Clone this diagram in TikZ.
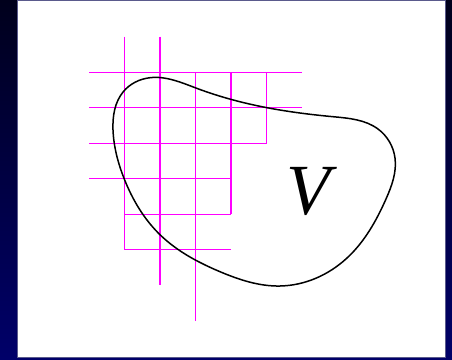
\documentclass[tikz,border=0pt]{standalone}
\usepackage{fontspec}
\setmainfont{Liberation Serif}
\usetikzlibrary{hobby}
\begin{document}
\begin{tikzpicture}[x=1pt,y=-1pt,
  gridline/.style={draw={rgb,255:red,255;green,0;blue,255}, line width=1.1pt},
  region/.style={draw=black, line width=1.5pt},
  lbl/.style={font=\fontsize{72}{72}\selectfont\itshape, inner sep=0pt}]
\useasboundingbox (0,0) rectangle (452,359);
\shade[top color={rgb,255:red,0;green,0;blue,28}, bottom color={rgb,255:red,0;green,0;blue,105}] (0,0) rectangle (452,359);
\fill[white, draw={rgb,255:red,90;green,90;blue,140}, line width=1pt] (17.5,0.5) rectangle (445.5,357);
% grid: origin at (124.5,72.2), step 35.5
\begin{scope}[shift={(124.5,72.2)}, x=35.5pt, y=-35.5pt]
  \draw[gridline] (0,-1) -- (0,5);
  \draw[gridline] (1,-1) -- (1,6);
  \draw[gridline] (2,0) -- (2,7);
  \draw[gridline] (3,0) -- (3,4);
  \draw[gridline] (4,0) -- (4,2);
  \draw[gridline] (-1,0) -- (5,0);
  \draw[gridline] (-1,1) -- (5,1);
  \draw[gridline] (-1,2) -- (4,2);
  \draw[gridline] (-1,3) -- (3,3);
  \draw[gridline] (0,4) -- (3,4);
  \draw[gridline] (0,5) -- (3,5);
\end{scope}
\draw[region] plot[closed hobby] coordinates {
  (150,77.7) (196.7,88.3) (267,107.7) (333,116.7) (378,129) (395,158) (386,199)
  (346.7,258.3) (280,286) (220,271.7) (160.3,235) (124,178.3) (113,130) (123.3,91.7)};
\node[lbl] (V) at (308,191) {V};
\end{tikzpicture}
\end{document}
